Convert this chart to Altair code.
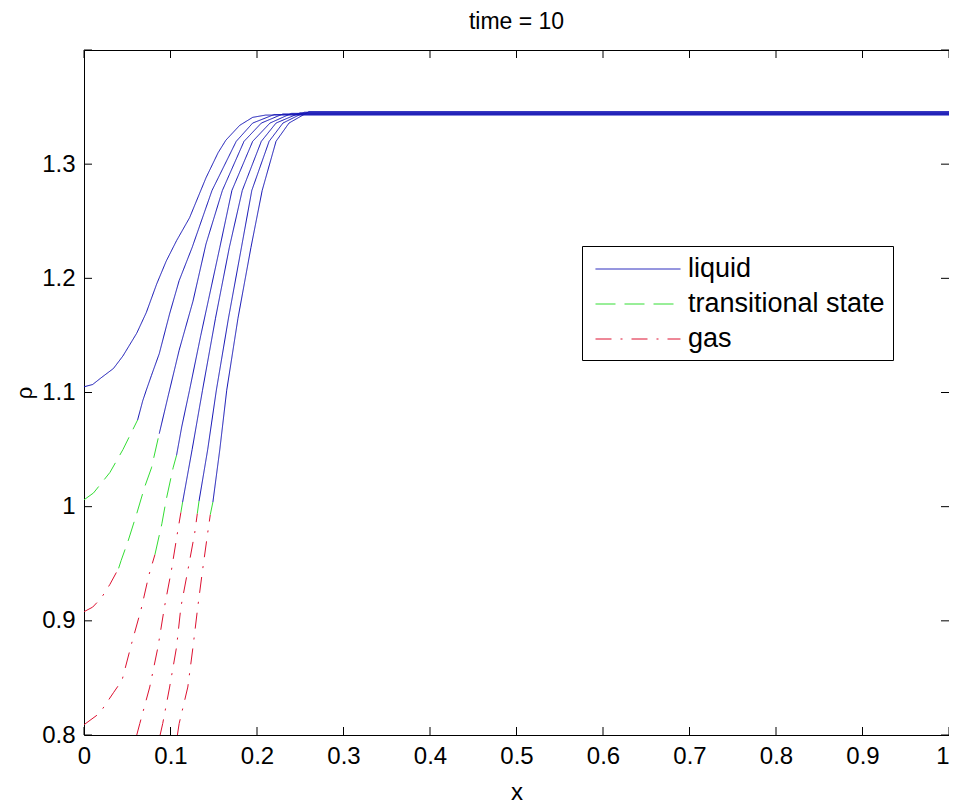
import altair as alt
import pandas as pd

# ---------------- data ----------------
PHASES = ["liquid", "transitional state", "gas"]

# curve 1 (liquid only)
C1_LIQ_X = [0.0, 0.01, 0.02, 0.034, 0.045, 0.061, 0.072, 0.084, 0.095, 0.107, 0.122, 0.141, 0.155, 0.164, 0.18, 0.195, 0.21, 1.0]
C1_LIQ_Y = [1.105, 1.107, 1.113, 1.121, 1.132, 1.152, 1.17, 1.195, 1.215, 1.233, 1.253, 1.288, 1.31, 1.321, 1.334, 1.341, 1.343, 1.343]

# curve 2
C2_TRA_X = [0.0, 0.011, 0.03, 0.045, 0.062]
C2_TRA_Y = [1.006, 1.012, 1.03, 1.05, 1.076]
C2_LIQ_X = [0.062, 0.068, 0.072, 0.078, 0.087, 0.099, 0.11, 0.125, 0.148, 0.176, 0.195, 0.22, 1.0]
C2_LIQ_Y = [1.076, 1.093, 1.102, 1.115, 1.134, 1.169, 1.198, 1.227, 1.277, 1.32, 1.336, 1.3435, 1.3435]

# curve 3
C3_GAS_X = [0.0, 0.01, 0.02, 0.03, 0.04]
C3_GAS_Y = [0.908, 0.912, 0.92, 0.932, 0.946]
C3_TRA_X = [0.04, 0.043, 0.051, 0.061, 0.07, 0.078, 0.087]
C3_TRA_Y = [0.946, 0.953, 0.97, 0.994, 1.017, 1.034, 1.064]
C3_LIQ_X = [0.087, 0.097, 0.11, 0.126, 0.141, 0.16, 0.185, 0.205, 0.23, 1.0]
C3_LIQ_Y = [1.064, 1.096, 1.137, 1.18, 1.23, 1.277, 1.32, 1.336, 1.344, 1.344]

# curve 4
C4_GAS_X = [0.0, 0.018, 0.034, 0.044, 0.055, 0.066, 0.075, 0.082]
C4_GAS_Y = [0.809, 0.819, 0.837, 0.848, 0.88, 0.91, 0.94, 0.958]
C4_TRA_X = [0.082, 0.09, 0.095, 0.103, 0.107]
C4_TRA_Y = [0.958, 0.985, 1.006, 1.034, 1.045]
C4_LIQ_X = [0.107, 0.113, 0.122, 0.135, 0.157, 0.171, 0.195, 0.215, 0.24, 1.0]
C4_LIQ_Y = [1.045, 1.07, 1.102, 1.15, 1.227, 1.277, 1.32, 1.336, 1.3445, 1.3445]

# curve 5
C5_GAS_X = [0.061, 0.0645, 0.076, 0.0855, 0.093, 0.101, 0.108, 0.112]
C5_GAS_Y = [0.8, 0.81, 0.842, 0.877, 0.912, 0.944, 0.977, 0.995]
C5_TRA_X = [0.112, 0.114]
C5_TRA_Y = [0.995, 1.004]
C5_LIQ_X = [0.114, 0.125, 0.137, 0.152, 0.168, 0.183, 0.205, 0.222, 0.25, 1.0]
C5_LIQ_Y = [1.004, 1.05, 1.102, 1.165, 1.227, 1.277, 1.32, 1.336, 1.345, 1.345]

# curve 6
C6_GAS_X = [0.088, 0.091, 0.099, 0.107, 0.112, 0.12, 0.128, 0.131]
C6_GAS_Y = [0.8, 0.81, 0.842, 0.877, 0.912, 0.944, 0.977, 0.994]
C6_TRA_X = [0.131, 0.133]
C6_TRA_Y = [0.994, 1.005]
C6_LIQ_X = [0.133, 0.143, 0.153, 0.167, 0.182, 0.194, 0.214, 0.23, 0.255, 1.0]
C6_LIQ_Y = [1.005, 1.05, 1.102, 1.165, 1.227, 1.277, 1.32, 1.336, 1.3455, 1.3455]

# curve 7
C7_GAS_X = [0.108, 0.11, 0.12, 0.126, 0.1315, 0.137, 0.143, 0.146]
C7_GAS_Y = [0.8, 0.81, 0.842, 0.877, 0.912, 0.944, 0.977, 0.993]
C7_TRA_X = [0.146, 0.149]
C7_TRA_Y = [0.993, 1.004]
C7_LIQ_X = [0.149, 0.157, 0.165, 0.178, 0.193, 0.206, 0.222, 0.237, 0.26, 1.0]
C7_LIQ_Y = [1.004, 1.05, 1.102, 1.165, 1.227, 1.277, 1.32, 1.336, 1.346, 1.346]

X_TICKS = [0.0, 0.1, 0.2, 0.3, 0.4, 0.5, 0.6, 0.7, 0.8, 0.9, 1.0]
Y_TICKS = [0.8, 0.9, 1.0, 1.1, 1.2, 1.3, 1.4]
Y_LABELS = [0.8, 0.9, 1.0, 1.1, 1.2, 1.3]

SEGMENTS = [
    (1, "liquid", C1_LIQ_X, C1_LIQ_Y),
    (2, "transitional state", C2_TRA_X, C2_TRA_Y),
    (2, "liquid", C2_LIQ_X, C2_LIQ_Y),
    (3, "gas", C3_GAS_X, C3_GAS_Y),
    (3, "transitional state", C3_TRA_X, C3_TRA_Y),
    (3, "liquid", C3_LIQ_X, C3_LIQ_Y),
    (4, "gas", C4_GAS_X, C4_GAS_Y),
    (4, "transitional state", C4_TRA_X, C4_TRA_Y),
    (4, "liquid", C4_LIQ_X, C4_LIQ_Y),
    (5, "gas", C5_GAS_X, C5_GAS_Y),
    (5, "transitional state", C5_TRA_X, C5_TRA_Y),
    (5, "liquid", C5_LIQ_X, C5_LIQ_Y),
    (6, "gas", C6_GAS_X, C6_GAS_Y),
    (6, "transitional state", C6_TRA_X, C6_TRA_Y),
    (6, "liquid", C6_LIQ_X, C6_LIQ_Y),
    (7, "gas", C7_GAS_X, C7_GAS_Y),
    (7, "transitional state", C7_TRA_X, C7_TRA_Y),
    (7, "liquid", C7_LIQ_X, C7_LIQ_Y),
]

rows = []
for curve, phase, xs, ys in SEGMENTS:
    for i, (xv, yv) in enumerate(zip(xs, ys)):
        rows.append({"x": xv, "y": yv, "phase": phase, "seg": f"{curve}-{phase}", "i": i})
df = pd.DataFrame(rows)

# ---------------- styling ----------------
W, H = 865, 685
TICK = 8
FONT = "Liberation Sans"
COLORS = ["#1010b4", "#33dd33", "#dd1030"]
DASHES = [[1, 0], [20, 9], [16, 9, 2, 9]]

xscale = alt.Scale(domain=[0, 1], nice=False, zero=False)
yscale = alt.Scale(domain=[0.8, 1.4], nice=False, zero=False)

AX = alt.Axis(values=X_TICKS, format=".1~f", title="x", labelPadding=9, titlePadding=12,
              labelFlush=False,
              labelAlign={"condition": {"test": "datum.value >= 1", "value": "right"},
                          "value": "center"})
AY = alt.Axis(values=Y_LABELS, format=".1~f", title="ρ", labelPadding=9, titlePadding=5,
              titleFontSize=22, labelFlush=False)

# long flat custom symbol: spans -1..4.86 units of sqrt(size)/2
legend = alt.Legend(
    title=None, orient="none", legendX=498, legendY=196,
    symbolType="M-1,0H4.86", symbolSize=841, symbolStrokeWidth=1, symbolOffset=5,
    symbolFillColor="transparent",
    labelFont=FONT, labelFontSize=27, labelColor="black", labelOffset=63, labelLimit=0,
    strokeColor="black", fillColor="white", padding=8, rowPadding=7,
)

lines = alt.Chart(df).mark_line(strokeWidth=1, clip=True).encode(
    x=alt.X("x:Q", scale=xscale, axis=AX),
    y=alt.Y("y:Q", scale=yscale, axis=AY),
    color=alt.Color("phase:N", scale=alt.Scale(domain=PHASES, range=COLORS), legend=legend),
    strokeDash=alt.StrokeDash("phase:N", scale=alt.Scale(domain=PHASES, range=DASHES), legend=legend),
    detail="seg:N",
    order="i:Q",
)

xt = pd.DataFrame({"t": X_TICKS})
yt = pd.DataFrame({"t": Y_TICKS})

bottom = alt.Chart(xt).mark_rule(color="black", strokeWidth=1).encode(
    x=alt.X("t:Q", scale=xscale, axis=AX), y=alt.value(H - TICK), y2=alt.value(H))
top = alt.Chart(xt).mark_rule(color="black", strokeWidth=1).encode(
    x=alt.X("t:Q", scale=xscale, axis=AX), y=alt.value(0), y2=alt.value(TICK))
left = alt.Chart(yt).mark_rule(color="black", strokeWidth=1).encode(
    y=alt.Y("t:Q", scale=yscale, axis=AY), x=alt.value(0), x2=alt.value(TICK))
right = alt.Chart(yt).mark_rule(color="black", strokeWidth=1).encode(
    y=alt.Y("t:Q", scale=yscale, axis=AY), x=alt.value(W - TICK), x2=alt.value(W))

chart = alt.layer(lines, bottom, top, left, right).properties(
    width=W, height=H,
    title=alt.TitleParams("time = 10", font=FONT, fontSize=23, fontWeight="normal",
                          color="black", offset=16),
    autosize=alt.AutoSizeParams(type="none"),
    padding={"left": 76, "top": 42, "right": 0, "bottom": 70},
).configure_view(
    stroke="black", strokeWidth=1
).configure_axis(
    grid=False, domain=False, ticks=False,
    labelFont=FONT, labelFontSize=24, labelColor="black",
    titleFont=FONT, titleFontSize=24, titleFontWeight="normal", titleColor="black",
)

chart.save("out.html", embed_options={"renderer": "svg", "actions": False})
